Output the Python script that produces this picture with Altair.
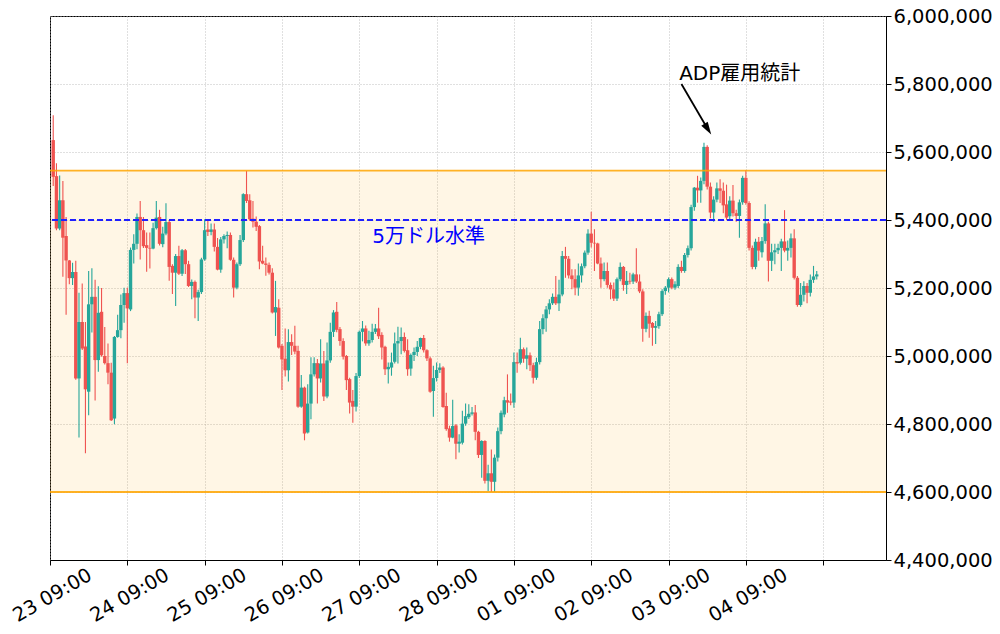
import json
import altair as alt
import pandas as pd

# ---- candle data (thousand JPY), hourly candles from 23 10:00 ----
opens = [5635,5529,5375,5458,5353,5281,5229,5247,4934,5100,5028,4895,5152,5174,4988,5130,5000,4979,4951,4816,
         5056,5076,5150,5185,5137,5312,5330,5409,5370,5326,5318,5316,5376,5409,5329,5360,5394,5265,5245,5294,
         5242,5311,5270,5206,5218,5172,5188,5284,5372,5365,5372,5321,5254,5343,5353,5356,5283,5201,5270,5341,
         5476,5458,5404,5395,5382,5280,5272,5268,5245,5128,5142,5030,4992,4958,5041,5030,5015,4851,4907,4775,
         4860,4946,4979,4934,4978,4881,4987,5071,5130,5079,5044,5000,4932,4868,4851,4941,5071,5081,5037,5047,
         5071,5081,5062,5027,4961,4966,4983,5037,5044,5056,5017,4963,5003,5012,5027,5053,5017,4993,4897,4935,
         4959,4966,4853,4787,4760,4796,4742,4745,4801,4820,4830,4834,4777,4709,4750,4633,4655,4630,4701,4779,
         4828,4870,4866,4863,4982,4980,5020,4992,5002,4973,4936,4982,5079,5111,5137,5155,5174,5155,5181,5294,
         5286,5237,5226,5201,5237,5264,5304,5360,5333,5331,5272,5226,5250,5209,5196,5169,5226,5262,5209,5221,
         5219,5240,5219,5190,5080,5118,5097,5083,5088,5123,5191,5201,5226,5201,5206,5262,5250,5297,5317,5438,
         5495,5487,5515,5615,5498,5422,5460,5493,5486,5446,5411,5457,5420,5412,5452,5524,5450,5318,5262,5336,
         5305,5338,5390,5280,5305,5311,5318,5337,5310,5318,5346,5230,5150,5180,5206,5186,5224,5234]
highs = [5708,5567,5531,5515,5409,5282,5274,5280,5186,5213,5100,5250,5258,5224,5205,5200,5085,5037,4980,5059,
         5121,5181,5201,5201,5319,5358,5419,5456,5409,5363,5363,5392,5456,5430,5380,5449,5400,5270,5300,5324,
         5315,5315,5280,5225,5222,5195,5289,5402,5398,5390,5390,5347,5350,5358,5366,5363,5290,5275,5356,5479,
         5544,5476,5456,5410,5385,5324,5290,5275,5258,5221,5167,5035,5081,5079,5064,5089,5030,4944,4910,4917,
         4996,4996,4991,5049,5015,5040,5098,5135,5159,5085,5052,5003,4936,4900,4950,5075,5103,5090,5074,5095,
         5094,5142,5070,5030,4981,5010,5069,5086,5084,5069,5049,5007,5025,5044,5054,5062,5020,4998,4971,4981,
         4979,4970,4892,4795,4871,4800,4770,4839,4860,4858,4850,4856,4780,4752,4752,4680,4725,4710,4790,4840,
         4880,4946,4890,5010,5010,5054,5025,5025,5010,4980,4995,5103,5123,5147,5167,5184,5235,5224,5309,5321,
         5294,5255,5255,5272,5272,5310,5373,5424,5373,5333,5290,5275,5275,5216,5216,5231,5275,5265,5250,5245,
         5245,5317,5240,5196,5128,5133,5100,5103,5130,5196,5206,5231,5231,5220,5270,5280,5303,5325,5445,5497,
         5530,5525,5627,5620,5510,5470,5510,5520,5510,5504,5470,5503,5430,5460,5530,5546,5455,5325,5345,5350,
         5350,5446,5395,5330,5330,5330,5345,5429,5340,5360,5373,5235,5215,5220,5215,5240,5265,5250]
lows = [5500,5370,5370,5233,5121,5211,5209,4930,4760,5018,4714,4826,5069,4869,4954,4998,4975,4917,4809,4799,
        5054,5052,5098,4979,5132,5272,5314,5284,5318,5248,5257,5314,5372,5325,5320,5355,5221,5182,5147,5238,
        5235,5241,5203,5167,5111,5103,5182,5280,5353,5355,5307,5252,5245,5331,5317,5280,5172,5196,5265,5335,
        5450,5398,5378,5368,5255,5270,5236,5240,5125,5059,5022,4900,4940,4925,5003,5005,4848,4848,4752,4772,
        4814,4940,4860,4922,4868,4876,4980,5056,5070,5030,4990,4900,4831,4804,4837,4935,5043,5030,5030,5040,
        5065,5050,4990,4944,4919,4942,4978,4978,5005,5010,4942,4942,4985,5000,5020,5010,4985,4892,4821,4925,
        4950,4848,4780,4748,4758,4696,4716,4740,4795,4815,4825,4752,4700,4642,4625,4603,4600,4600,4690,4770,
        4820,4833,4855,4848,4951,4975,4980,4961,4956,4919,4930,4975,5064,5071,5123,5150,5150,5132,5176,5230,
        5228,5196,5179,5177,5216,5258,5298,5319,5250,5270,5201,5220,5201,5167,5162,5162,5220,5192,5182,5211,
        5212,5215,5185,5042,5070,5054,5030,5035,5080,5118,5180,5187,5196,5195,5200,5245,5245,5290,5310,5427,
        5451,5451,5505,5490,5405,5395,5452,5450,5420,5400,5400,5410,5395,5348,5445,5445,5310,5255,5255,5280,
        5290,5330,5219,5250,5270,5300,5250,5305,5280,5290,5225,5145,5145,5160,5155,5175,5215,5225]
closes = [5527,5375,5458,5348,5281,5229,5247,4934,5100,5022,4902,5152,5174,4988,5127,5002,4979,4951,4811,5056,
          5076,5150,5185,5140,5312,5330,5409,5370,5323,5318,5316,5376,5407,5330,5360,5394,5262,5245,5294,5242,
          5311,5270,5206,5218,5172,5188,5284,5370,5365,5372,5321,5254,5343,5353,5356,5283,5201,5270,5341,5476,
          5456,5402,5395,5380,5278,5272,5268,5245,5128,5144,5025,4990,4958,5041,5030,5013,4851,4907,4772,4860,
          4946,4979,4934,4978,4881,4987,5071,5128,5077,5044,4998,4929,4863,4851,4941,5071,5081,5037,5047,5071,
          5081,5058,5025,4961,4968,4981,5037,5044,5056,5015,4961,5003,5012,5027,5053,5017,4993,4895,4935,4959,
          4966,4850,4785,4760,4794,4742,4748,4801,4823,4830,4834,4777,4709,4750,4633,4655,4630,4701,4779,4833,
          4870,4863,4863,4982,4978,5020,4992,5002,4973,4936,4982,5079,5111,5137,5155,5174,5155,5181,5294,5286,
          5237,5226,5201,5237,5264,5304,5360,5333,5331,5272,5226,5250,5209,5196,5169,5226,5262,5209,5221,5219,
          5240,5219,5190,5080,5118,5095,5083,5088,5123,5191,5201,5226,5201,5211,5262,5250,5297,5317,5438,5495,
          5487,5515,5615,5498,5422,5460,5493,5486,5443,5407,5457,5420,5412,5452,5524,5450,5318,5262,5336,5310,
          5338,5390,5280,5305,5311,5318,5337,5310,5318,5346,5230,5150,5180,5206,5186,5224,5234,5240]

# x-axis tick labels (one per day, 09:00), hours since 23 09:00
tick_labels = ["23 09:00", "24 09:00", "25 09:00", "26 09:00", "27 09:00",
               "28 09:00", "01 09:00", "02 09:00", "03 09:00", "04 09:00"]
tick_hours = [0, 24, 48, 72, 96, 120, 144, 168, 192, 216, 240]
y_ticks = [4400000, 4600000, 4800000, 5000000, 5200000, 5400000, 5600000, 5800000, 6000000]

# reference levels
band_low = 4600000
band_high = 5545000
level_50k = 5400000
level_label = "5万ドル水準"
level_label_pos = (100.0, 5350000)
adp_label = "ADP雇用統計"
adp_text_pos = (195.3, 5829000)
adp_arrow_start = (196.0, 5800000)
adp_arrow_head = (204.2, 5667000)

UP = "#26a69a"
DOWN = "#ef5350"
FONT = "DejaVu Sans, Noto Sans CJK JP, sans-serif"
TICK_FS = 19.5
TEXT_FS = 20
W, H = 836, 544

n = len(closes)
df = pd.DataFrame({
    "hour": [i + 1 for i in range(n)],
    "open": [v * 1000 for v in opens],
    "high": [v * 1000 for v in highs],
    "low": [v * 1000 for v in lows],
    "close": [v * 1000 for v in closes],
})
df["dir"] = ["up" if c >= o else "down" for o, c in zip(df["open"], df["close"])]

xs = alt.Scale(domain=[0, 259.5], nice=False, zero=False, padding=0)
ys = alt.Scale(domain=[4400000, 6000000], nice=False, zero=False, padding=0)
col = alt.Color("dir:N", scale=alt.Scale(domain=["up", "down"], range=[UP, DOWN]), legend=None)

label_expr = f"datum.value < {len(tick_labels) * 24} ? {json.dumps(tick_labels, ensure_ascii=False)}[floor(datum.value / 24)] : ''"

x_axis = alt.Axis(values=tick_hours, labelExpr=label_expr, title=None, grid=True,
                  gridColor="#b0b0b0", gridDash=[1, 2], gridWidth=0.8,
                  labelAngle=-30, labelAlign="center", labelBaseline="middle",
                  labelPadding=30, labelOffset=2, labelFont=FONT, labelFontSize=TICK_FS,
                  labelColor="black", tickColor="black", tickSize=5, domainColor="black",
                  labelOverlap=False)
y_axis = alt.Axis(values=y_ticks, format=",d", orient="right", title=None, grid=True,
                  gridColor="#b0b0b0", gridDash=[1, 2], gridWidth=0.8,
                  labelFont=FONT, labelFontSize=TICK_FS, labelColor="black", labelPadding=2,
                  tickColor="black", tickSize=5, domainColor="black", labelOverlap=False)


def X(field):
    return alt.X(field, scale=xs, axis=x_axis)


def Y(field):
    return alt.Y(field, scale=ys, axis=y_axis)


band_df = pd.DataFrame({"x0": [0.0], "x1": [259.5], "lo": [band_low], "hi": [band_high]})
band = alt.Chart(band_df).mark_rect(color="orange", opacity=0.1).encode(
    x=X("x0:Q"), x2="x1:Q", y=Y("lo:Q"), y2="hi:Q")

lines_df = pd.DataFrame({"lvl": [band_low, band_high]})
band_lines = alt.Chart(lines_df).mark_rule(color="orange", strokeWidth=1.8, opacity=0.85).encode(
    y=Y("lvl:Q"))

wicks = alt.Chart(df).mark_rule(strokeWidth=1.1).encode(
    x=X("hour:Q"), y=Y("low:Q"), y2="high:Q", color=col)

bodies = alt.Chart(df).mark_bar(size=3.4).encode(
    x=X("hour:Q"), y=Y("open:Q"), y2="close:Q", color=col)

lvl_df = pd.DataFrame({"lvl": [level_50k]})
lvl_line = alt.Chart(lvl_df).mark_rule(color="#1f1fff", strokeWidth=1.8, strokeDash=[6, 3]).encode(
    y=Y("lvl:Q"))

txt_df = pd.DataFrame({"x": [level_label_pos[0], adp_text_pos[0]],
                       "y": [level_label_pos[1], adp_text_pos[1]],
                       "t": [level_label, adp_label],
                       "c": ["blue", "black"]})
texts = alt.Chart(txt_df).mark_text(align="left", baseline="middle", font=FONT, fontSize=TEXT_FS).encode(
    x=X("x:Q"), y=Y("y:Q"), text="t:N", color=alt.Color("c:N", scale=None))

arr_df = pd.DataFrame({"x": [adp_arrow_start[0]], "y": [adp_arrow_start[1]],
                       "x2": [adp_arrow_head[0]], "y2": [adp_arrow_head[1]]})
arrow_line = alt.Chart(arr_df).mark_rule(color="black", strokeWidth=1.8).encode(
    x=X("x:Q"), x2="x2:Q", y=Y("y:Q"), y2="y2:Q")
arrow_head = alt.Chart(arr_df).mark_point(shape="M0,-1L0.6,1L-0.6,1Z", filled=True, color="black",
                                          size=160, angle=148, opacity=1).encode(
    x=X("x2:Q"), y=Y("y2:Q"))

chart = alt.layer(band, wicks, bodies, band_lines, lvl_line, texts, arrow_line, arrow_head).properties(
    width=W, height=H,
    autosize=alt.AutoSizeParams(type="none"),
    padding={"left": 42, "top": 8, "right": 106, "bottom": 70},
    background="white",
).configure_view(stroke="black", strokeWidth=1)

chart.save("out.html", embed_options={"renderer": "svg", "actions": False})
